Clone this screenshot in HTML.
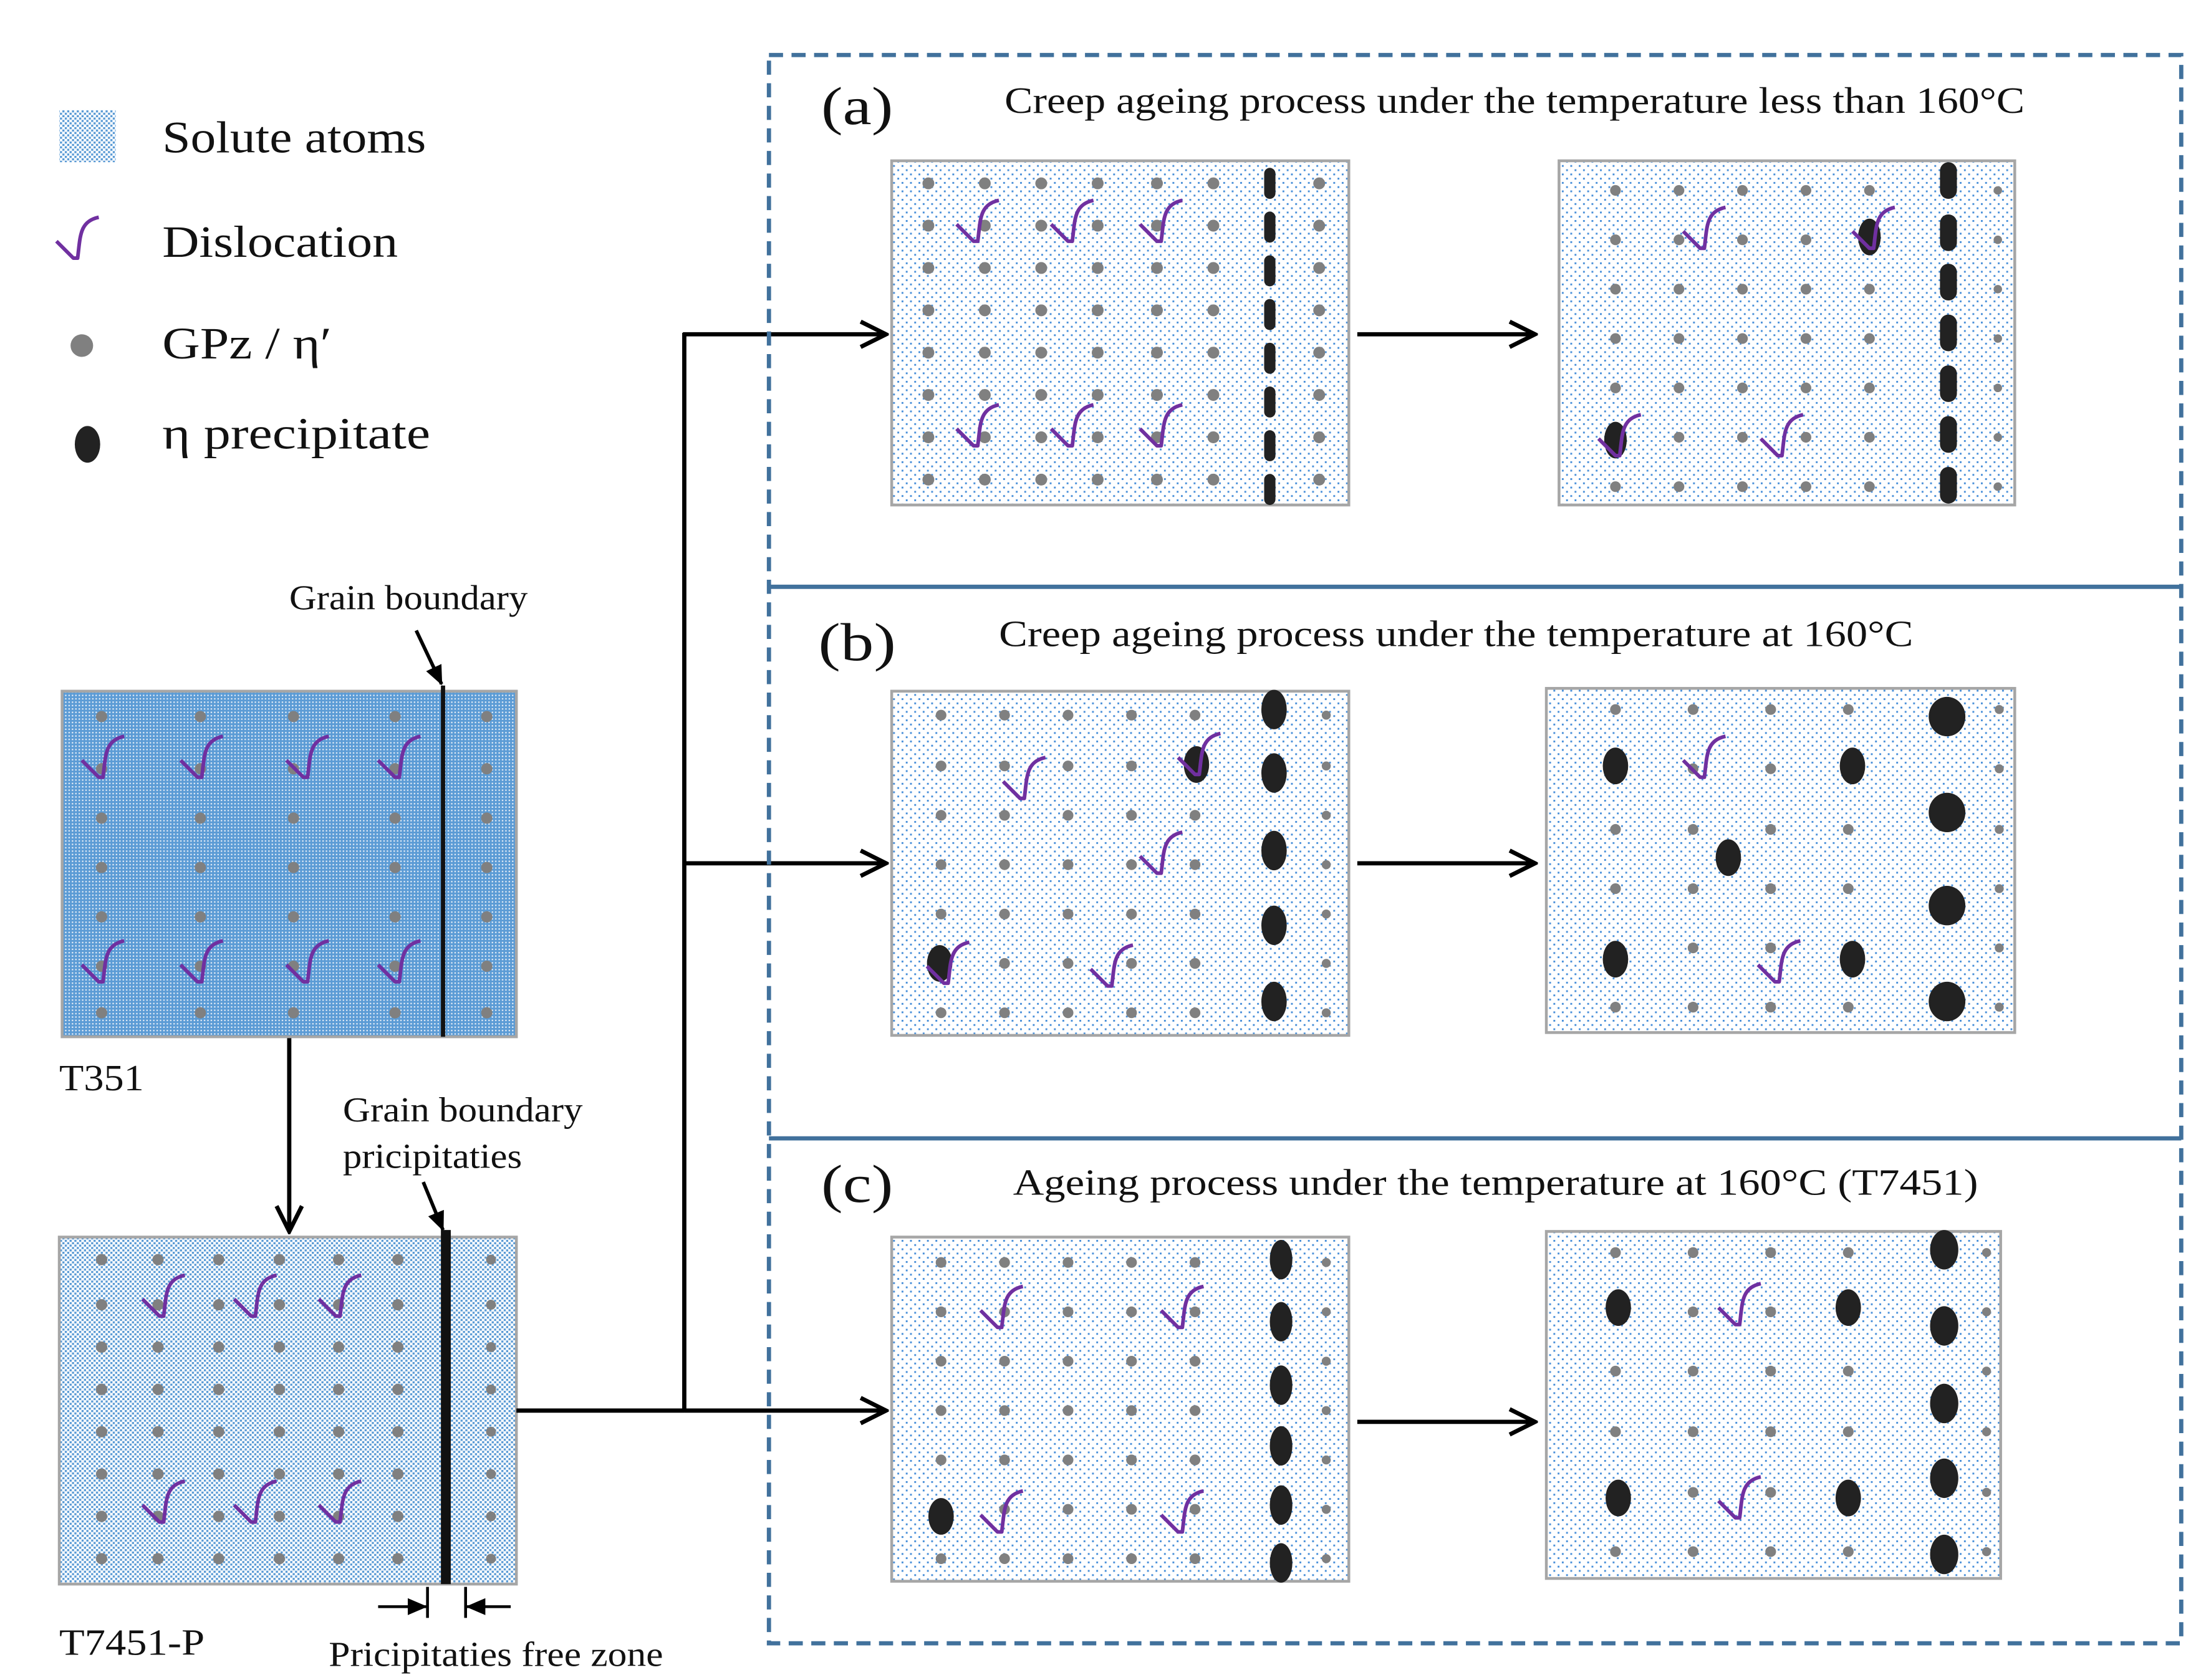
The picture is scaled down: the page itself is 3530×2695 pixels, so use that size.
<!DOCTYPE html>
<html><head><meta charset="utf-8">
<style>
html,body{margin:0;padding:0;background:#fff;}
svg{display:block;}
text{font-family:"Liberation Serif",serif;fill:#111;}
</style></head>
<body>
<svg id="s" width="3530" height="2695" viewBox="0 0 1560 1191" xmlns="http://www.w3.org/2000/svg">
<defs>
<pattern id="sol" width="6" height="6" patternUnits="userSpaceOnUse">
<rect x="0" y="0" width="1.3" height="1.3" fill="#4a90d9"/>
<rect x="3" y="3" width="1.3" height="1.3" fill="#4a90d9"/>
</pattern>
<pattern id="dense" width="3.4" height="3.4" patternUnits="userSpaceOnUse">
<rect x="0" y="0" width="1.5" height="1.5" fill="#5b9bd5"/>
<rect x="1.7" y="1.7" width="1.5" height="1.5" fill="#5b9bd5"/>
</pattern>
<pattern id="inv" width="2.4" height="2.4" patternUnits="userSpaceOnUse">
<rect x="0" y="0" width="2.4" height="2.4" fill="#5b9bd5"/>
<rect x="0.5" y="0.5" width="1" height="1" fill="#e6eef8"/>
</pattern>
<marker id="ah2" markerWidth="22" markerHeight="22" refX="20" refY="11" orient="auto" markerUnits="userSpaceOnUse" viewBox="0 0 22 22">
<path d="M2,2 L20,11 L2,20" fill="none" stroke="#000" stroke-width="3"/>
</marker>
<marker id="ahf" markerWidth="14" markerHeight="12" refX="13" refY="6" orient="auto" markerUnits="userSpaceOnUse" viewBox="0 0 14 12">
<path d="M0,0 L14,6 L0,12 Z" fill="#000"/>
</marker>
</defs>

<!-- legend -->
<rect x="42" y="78" width="40" height="37" fill="url(#dense)"/>
<text x="115" y="108" font-size="32" textLength="187" lengthAdjust="spacingAndGlyphs">Solute atoms</text>
<text x="115" y="182" font-size="32" textLength="167" lengthAdjust="spacingAndGlyphs">Dislocation</text>
<circle cx="58" cy="245" r="8" fill="#808080"/>
<text x="115" y="254" font-size="32" textLength="120" lengthAdjust="spacingAndGlyphs">GPz / η′</text>
<ellipse cx="62" cy="315" rx="9" ry="13" fill="#222"/>
<text x="115" y="318" font-size="32" textLength="190" lengthAdjust="spacingAndGlyphs">η  precipitate</text>

<!-- T351 -->
<rect x="44" y="490" width="322" height="245" fill="url(#inv)" stroke="#a6a6a6" stroke-width="2"/>
<text x="205" y="432" font-size="25" textLength="169" lengthAdjust="spacingAndGlyphs">Grain boundary</text>
<line x1="295" y1="447" x2="313" y2="485" stroke="#000" stroke-width="2.5" marker-end="url(#ahf)"/>
<line x1="314" y1="486" x2="314" y2="735" stroke="#111" stroke-width="3"/>
<text x="42" y="773" font-size="26" textLength="60" lengthAdjust="spacingAndGlyphs">T351</text>
<line x1="205" y1="736" x2="205" y2="873" stroke="#000" stroke-width="3" marker-end="url(#ah2)"/>

<!-- T7451-P -->
<rect x="42" y="877" width="324" height="246" fill="url(#dense)" stroke="#a6a6a6" stroke-width="2"/>
<text x="243" y="795" font-size="25" textLength="170" lengthAdjust="spacingAndGlyphs">Grain boundary</text>
<text x="243" y="828" font-size="25" textLength="127" lengthAdjust="spacingAndGlyphs">pricipitaties</text>
<line x1="300" y1="838" x2="314" y2="872" stroke="#000" stroke-width="2.5" marker-end="url(#ahf)"/>
<line x1="316" y1="872" x2="316" y2="1123" stroke="#111" stroke-width="7"/>
<line x1="303" y1="1125" x2="303" y2="1147" stroke="#000" stroke-width="2"/>
<line x1="330" y1="1125" x2="330" y2="1147" stroke="#000" stroke-width="2"/>
<line x1="268" y1="1139" x2="302" y2="1139" stroke="#000" stroke-width="2" marker-end="url(#ahf)"/>
<line x1="362" y1="1139" x2="331" y2="1139" stroke="#000" stroke-width="2" marker-end="url(#ahf)"/>
<text x="42" y="1173" font-size="26" textLength="103" lengthAdjust="spacingAndGlyphs">T7451-P</text>
<text x="233" y="1181" font-size="25" textLength="237" lengthAdjust="spacingAndGlyphs">Pricipitaties free zone</text>

<!-- connectors -->
<line x1="366" y1="1000" x2="485" y2="1000" stroke="#000" stroke-width="3"/>
<line x1="485" y1="1000" x2="628" y2="1000" stroke="#000" stroke-width="3" marker-end="url(#ah2)"/>
<line x1="485" y1="236" x2="485" y2="1001" stroke="#000" stroke-width="3"/>
<line x1="484" y1="237" x2="628" y2="237" stroke="#000" stroke-width="3" marker-end="url(#ah2)"/>
<line x1="484" y1="612" x2="628" y2="612" stroke="#000" stroke-width="3" marker-end="url(#ah2)"/>

<!-- outer dashed frame -->
<rect x="545" y="39" width="1001" height="1126" fill="none" stroke="#41719c" stroke-width="3" stroke-dasharray="10,6"/>
<line x1="545" y1="416" x2="1546" y2="416" stroke="#41719c" stroke-width="3"/>
<line x1="545" y1="807" x2="1546" y2="807" stroke="#41719c" stroke-width="3"/>

<text x="582" y="88" font-size="38" textLength="51" lengthAdjust="spacingAndGlyphs">(a)</text>
<text x="712" y="80" font-size="26" textLength="723" lengthAdjust="spacingAndGlyphs">Creep ageing process under the temperature less than 160°C</text>
<text x="580" y="468" font-size="38" textLength="55" lengthAdjust="spacingAndGlyphs">(b)</text>
<text x="708" y="458" font-size="26" textLength="648" lengthAdjust="spacingAndGlyphs">Creep ageing process  under the temperature at 160°C</text>
<text x="582" y="852" font-size="38" textLength="51" lengthAdjust="spacingAndGlyphs">(c)</text>
<text x="718" y="847" font-size="26" textLength="684" lengthAdjust="spacingAndGlyphs">Ageing process  under the temperature at 160°C (T7451)</text>

<!-- panel boxes -->
<rect x="632" y="114" width="324" height="244" fill="url(#sol)" stroke="#a6a6a6" stroke-width="2"/>
<rect x="1105" y="114" width="323" height="244" fill="url(#sol)" stroke="#a6a6a6" stroke-width="2"/>
<rect x="632" y="490" width="324" height="244" fill="url(#sol)" stroke="#a6a6a6" stroke-width="2"/>
<rect x="1096" y="488" width="332" height="244" fill="url(#sol)" stroke="#a6a6a6" stroke-width="2"/>
<rect x="632" y="877" width="324" height="244" fill="url(#sol)" stroke="#a6a6a6" stroke-width="2"/>
<rect x="1096" y="873" width="322" height="246" fill="url(#sol)" stroke="#a6a6a6" stroke-width="2"/>

<line x1="962" y1="237" x2="1088" y2="237" stroke="#000" stroke-width="3" marker-end="url(#ah2)"/>
<line x1="962" y1="612" x2="1088" y2="612" stroke="#000" stroke-width="3" marker-end="url(#ah2)"/>
<line x1="962" y1="1008" x2="1088" y2="1008" stroke="#000" stroke-width="3" marker-end="url(#ah2)"/>

<g id="dyn"></g>
<g id="dis"></g>
</svg>
<script>
var NS="http://www.w3.org/2000/svg";
var g=document.getElementById("dyn"), gd=document.getElementById("dis");
function el(p,t,a){var e=document.createElementNS(NS,t);for(var k in a)e.setAttribute(k,a[k]);p.appendChild(e);return e;}
function dots(xs,ys,r){xs.forEach(function(x){ys.forEach(function(y){el(g,"circle",{cx:x,cy:y,r:r||4.2,fill:"#808080"});});});}
function ell(x,y,rx,ry){el(g,"ellipse",{cx:x,cy:y,rx:rx,ry:ry,fill:"#222"});}
function rr(x,y,w,h){el(g,"rect",{x:x-w/2,y:y-h/2,width:w,height:h,rx:w/2,ry:w/2,fill:"#222"});}
function dis(x,y){el(gd,"path",{d:"M"+(x-17)+","+(y-1)+" L"+(x-5)+","+(y+11)+" L"+(x-2)+","+(y+11)+" C"+(x)+","+(y-4)+" "+(x-1)+","+(y-15)+" "+(x+13)+","+(y-18),fill:"none",stroke:"#7030a0","stroke-width":2.6,"stroke-linejoin":"round"});}
dis(57,172);
dots([72,142,208,280,345],[508,545,580,615,650,685,718],4);
[75,145,220,285].forEach(function(x){dis(x,540);dis(x,685);});
dots([72,112,155,198,240,282],[893,925,955,985,1015,1045,1075,1105],4);
dots([348],[893,925,955,985,1015,1045,1075,1105],3.5);
[118,183,243].forEach(function(x){dis(x,922);dis(x,1068);});
dots([658,698,738,778,820,860,935],[130,160,190,220,250,280,310,340],4.2);
for(var y=130;y<358;y+=31) rr(900,y,8,22);
[695,762,825].forEach(function(x){dis(x,160);dis(x,305);});
dots([1145,1190,1235,1280,1325],[135,170,205,240,275,310,345],3.8);
dots([1416],[135,170,205,240,275,310,345],3);
[128,165,200,236,272,308,344].forEach(function(y){rr(1381,y,12,26);});
ell(1325,168,8,13);ell(1145,312,8,13);
dis(1210,165);dis(1265,312);dis(1330,165);dis(1150,312);
dots([667,712,757,802,847],[507,543,578,613,648,683,718],3.8);
dots([940],[507,543,578,613,648,683,718],3.2);
[503,548,603,656,710].forEach(function(y){ell(903,y,9,14);});
ell(848,542,9,13);ell(666,683,9,13);
dis(728,555);dis(825,608);dis(790,688);dis(852,538);dis(674,686);
dots([1145,1200,1255,1310],[503,545,588,630,672,714],3.8);
dots([1417],[503,545,588,630,672,714],3.2);
[508,576,642,710].forEach(function(y){ell(1380,y,13,14);});
[[1145,543],[1313,543],[1225,608],[1145,680],[1313,680]].forEach(function(p){ell(p[0],p[1],9,13);});
dis(1210,540);dis(1263,685);
dots([667,712,757,802,847],[895,930,965,1000,1035,1070,1105],3.8);
dots([940],[895,930,965,1000,1035,1070,1105],3.2);
[893,937,982,1025,1067,1108].forEach(function(y){ell(908,y,8,14);});
ell(667,1075,9,13);
dis(712,930);dis(840,930);dis(712,1075);dis(840,1075);
dots([1145,1200,1255,1310],[888,930,972,1015,1058,1100],3.8);
dots([1408],[888,930,972,1015,1058,1100],3.2);
[886,940,995,1048,1102].forEach(function(y){ell(1378,y,10,14);});
[[1147,927],[1310,927],[1147,1062],[1310,1062]].forEach(function(p){ell(p[0],p[1],9,13);});
dis(1235,928);dis(1235,1065);
</script>
</body></html>
